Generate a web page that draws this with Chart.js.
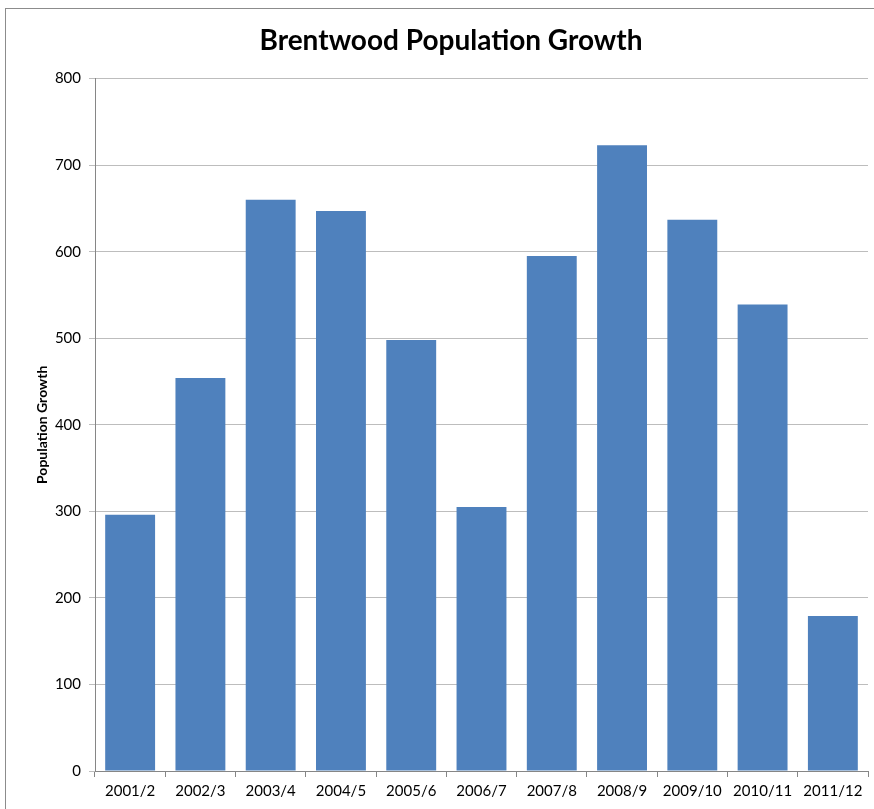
<!DOCTYPE html>
<html>
<head>
<meta charset="utf-8">
<script src="https://cdn.jsdelivr.net/npm/chart.js@4/dist/chart.umd.min.js"></script>
<style>
  html, body { margin: 0; padding: 0; background: #fff; }
  #wrap { width: 874px; height: 809px; position: relative; }
</style>
</head>
<body>
<div id="wrap"><canvas id="chart" width="874" height="809"></canvas></div>
<script>
// Annual population growth, Brentwood
const years = ['2001/2', '2002/3', '2003/4', '2004/5', '2005/6', '2006/7', '2007/8', '2008/9', '2009/10', '2010/11', '2011/12'];
const growth = [296, 454, 660, 647, 498, 305, 595, 723, 637, 539, 179];
const yTicks = [0, 100, 200, 300, 400, 500, 600, 700, 800];

const FONT = 'Lato, "Open Sans", "Liberation Sans", sans-serif';

// Thin frame round the whole chart
const framePlugin = {
  id: 'frame',
  beforeDraw(chart) {
    const ctx = chart.ctx;
    ctx.save();
    ctx.fillStyle = '#ffffff';
    ctx.fillRect(0, 0, chart.width, chart.height);
    ctx.strokeStyle = '#8c8c8c';
    ctx.lineWidth = 1;
    ctx.strokeRect(5.5, 8.5, 1000, 1000);
    ctx.restore();
  }
};

new Chart(document.getElementById('chart'), {
  type: 'bar',
  data: {
    labels: years,
    datasets: [{
      label: 'Population Growth',
      data: growth,
      backgroundColor: '#4F81BD',
      borderWidth: 0,
      barPercentage: 0.71,
      categoryPercentage: 1.0
    }]
  },
  options: {
    responsive: false,
    animation: false,
    layout: { padding: { left: 34, right: 6, top: 0, bottom: 0 } },
    plugins: {
      legend: { display: false },
      tooltip: { enabled: false },
      title: {
        display: true,
        text: 'Brentwood Population Growth',
        color: '#000000',
        font: { family: FONT, size: 28, weight: 'bold' },
        padding: { top: 24, bottom: 21 }
      }
    },
    scales: {
      x: {
        offset: true,
        grid: {
          offset: true,
          drawOnChartArea: false,
          drawTicks: true,
          tickLength: 6,
          color: '#868686'
        },
        border: { display: true, color: '#868686', width: 1 },
        ticks: {
          color: '#000000',
          font: { family: FONT, size: 15 },
          padding: 5,
          maxRotation: 0,
          autoSkip: false
        },
        afterFit(scale) { scale.height = 38; }
      },
      y: {
        min: 0,
        max: 800,
        afterBuildTicks(scale) { scale.ticks = yTicks.map(v => ({ value: v })); },
        grid: {
          color: '#bdbdbd',
          tickLength: 6,
          drawTicks: true
        },
        border: { display: true, color: '#868686', width: 1 },
        ticks: {
          color: '#000000',
          font: { family: FONT, size: 15 },
          padding: 8
        },
        title: {
          display: true,
          text: 'Population Growth',
          color: '#000000',
          font: { family: FONT, size: 14, weight: 'bold' },
          padding: { top: 0, bottom: 0 }
        },
        afterFit(scale) { scale.width = 61; }
      }
    }
  },
  plugins: [framePlugin]
});
</script>
</body>
</html>
